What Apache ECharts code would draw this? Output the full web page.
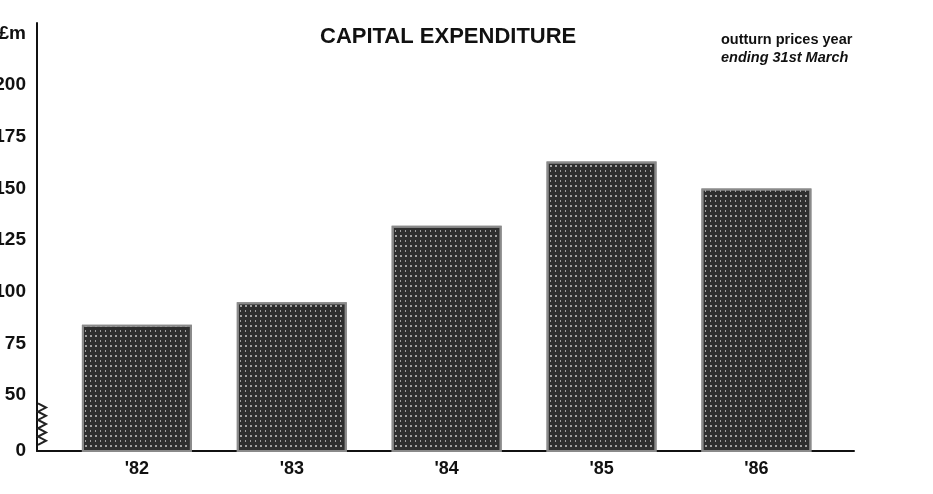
<!DOCTYPE html>
<html>
<head>
<meta charset="utf-8">
<title>Capital expenditure</title>
<script src="https://cdn.jsdelivr.net/npm/echarts@6/dist/echarts.min.js"></script>
<style>
	html,body{margin:0;padding:0;background:#fff;}
	#main{width:933px;height:494px;}
</style>
</head>
<body>
<div id="main"></div>
<script>
// years (financial year ending 31st March)
var years = ["'82", "'83", "'84", "'85", "'86"];
// capital expenditure, £m, outturn prices
var spend = [84, 95, 132, 163, 150];

// y axis is broken between 0 and 50: the baseline value stands for 0
var axisBase = 23;
var yTickValues = [23, 50, 75, 100, 125, 150, 175, 200, 225];
var yTickLabels = ['0', '50', '75', '100', '125', '150', '175', '200', '£m'];
// zigzag of the axis break
var breakMarks = [26, 28, 30, 32, 34, 36, 38, 40, 42, 44, 46];

var xPos = [0, 1, 2, 3, 4];
var xMin = -0.645, xMax = 4.63;

var font = 'Liberation Sans, Arial, sans-serif';

var chart = echarts.init(document.getElementById('main'), null, {renderer: 'canvas'});

var barData = [];
for (var i = 0; i < years.length; i++) {
	barData.push([xPos[i], spend[i]]);
}

chart.setOption({
	backgroundColor: '#fff',
	animation: false,
	title: [{
		text: 'CAPITAL EXPENDITURE',
		left: 315,
		top: 21,
		textStyle: {fontFamily: font, fontSize: 22, fontWeight: 'bold', color: '#111'}
	}, {
		text: '{a|outturn prices year}\n{b|ending 31st March}',
		left: 716,
		top: 26,
		textStyle: {
			rich: {
				a: {fontFamily: font, fontSize: 14.5, fontWeight: 'bold', color: '#111', lineHeight: 18},
				b: {fontFamily: font, fontSize: 14.5, fontWeight: 'bold', fontStyle: 'italic', color: '#111', lineHeight: 18}
			}
		}
	}],
	// labels run off the left edge like the scan, so don't let the grid shrink
	grid: {left: 37, right: 79, top: 23, bottom: 43, containLabel: false, outerBoundsMode: 'none'},
	xAxis: {
		type: 'value',
		min: xMin,
		max: xMax,
		axisLine: {show: true, onZero: false, lineStyle: {color: '#111', width: 2}},
		axisTick: {show: false},
		splitLine: {show: false},
		axisLabel: {
			customValues: xPos,
			margin: 9,
			fontFamily: font, fontSize: 18, fontWeight: 'bold', color: '#111',
			formatter: function(v){ return years[Math.round(v)]; }
		}
	},
	yAxis: {
		type: 'value',
		min: axisBase,
		max: 230,
		axisLine: {show: true, onZero: false, lineStyle: {color: '#111', width: 2}},
		axisTick: {show: false},
		splitLine: {show: false},
		axisLabel: {
			customValues: yTickValues,
			margin: 11,
			fontFamily: font, fontSize: 19, fontWeight: 'bold', color: '#111',
			formatter: function(v){
				var k = yTickValues.indexOf(v);
				return k >= 0 ? yTickLabels[k] : '';
			}
		}
	},
	series: [{
		type: 'bar',
		data: barData,
		barWidth: 110,
		itemStyle: {
			color: '#2e2e2e',
			borderColor: '#8a8a8a',
			borderWidth: 2,
			decal: {
				symbol: 'rect',
				symbolSize: 1,
				color: 'rgba(255,255,255,0.55)',
				dashArrayX: [[2, 3], [1, 4]],
				dashArrayY: [2, 3],
				rotation: 0
			}
		}
	}, {
		// axis break zigzag
		type: 'custom',
		silent: true,
		data: [0],
		renderItem: function(params, api){
			var pts = [];
			for (var j = 0; j < breakMarks.length; j++) {
				var p = api.coord([xMin, breakMarks[j]]);
				pts.push([p[0] + (j % 2 ? 9 : 1), p[1]]);
			}
			return {
				type: 'polyline',
				shape: {points: pts},
				style: {stroke: '#222', lineWidth: 2, fill: null}
			};
		}
	}]
});
</script>
</body>
</html>
